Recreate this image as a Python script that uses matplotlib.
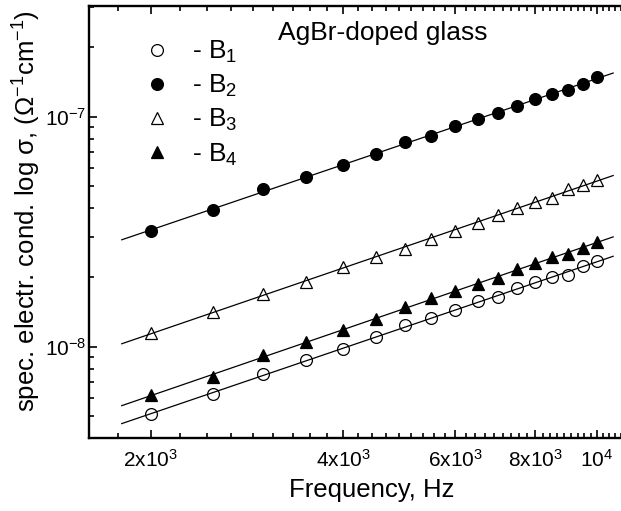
import numpy as np
import matplotlib
matplotlib.use("Agg")
import matplotlib.pyplot as plt
from matplotlib.ticker import FixedLocator, FixedFormatter, LogLocator, NullFormatter

plt.rcParams['font.family'] = ['Liberation Sans', 'DejaVu Sans']
plt.rcParams['mathtext.fontset'] = 'custom'
plt.rcParams['mathtext.rm'] = 'Liberation Sans'
plt.rcParams['mathtext.it'] = 'Liberation Sans:italic'
plt.rcParams['mathtext.bf'] = 'Liberation Sans:bold'

# ---- data ----
freq = [2000, 2500, 3000, 3500, 4000, 4500, 5000, 5500, 6000,
        6500, 7000, 7500, 8000, 8500, 9000, 9500, 10000]
B1 = [5.10e-9, 6.22e-9, 7.59e-9, 8.71e-9, 9.77e-9, 1.105e-8, 1.239e-8, 1.328e-8,
      1.443e-8, 1.585e-8, 1.64e-8, 1.80e-8, 1.905e-8, 2.009e-8, 2.044e-8, 2.243e-8, 2.358e-8]
B2 = [3.194e-8, 3.918e-8, 4.826e-8, 5.495e-8, 6.177e-8, 6.862e-8, 7.777e-8, 8.266e-8,
      9.085e-8, 9.79e-8, 1.036e-7, 1.115e-7, 1.198e-7, 1.258e-7, 1.30e-7, 1.39e-7, 1.491e-7]
B3 = [1.152e-8, 1.409e-8, 1.692e-8, 1.915e-8, 2.214e-8, 2.462e-8, 2.652e-8, 2.948e-8,
      3.194e-8, 3.46e-8, 3.725e-8, 4.02e-8, 4.256e-8, 4.443e-8, 4.864e-8, 5.031e-8, 5.305e-8]
B4 = [6.17e-9, 7.41e-9, 9.18e-9, 1.043e-8, 1.182e-8, 1.319e-8, 1.483e-8, 1.623e-8,
      1.746e-8, 1.873e-8, 1.989e-8, 2.17e-8, 2.305e-8, 2.455e-8, 2.542e-8, 2.699e-8, 2.852e-8]
series_labels = ["- B$_1$", "- B$_2$", "- B$_3$", "- B$_4$"]
fit_range = [1800, 10600]
xticks = [2000, 4000, 6000, 8000, 10000]
xtick_labels = ["2x10$^3$", "4x10$^3$", "6x10$^3$", "8x10$^3$", "10$^4$"]
yticks = [1e-8, 1e-7]
ytick_labels = ["10$^{-8}$", "10$^{-7}$"]

fig = plt.figure(figsize=(6.21, 5.11), dpi=100)
ax = fig.add_axes([89/621, (511-438)/511, (621-89)/621, 432/511])

styles = [
    dict(marker='o', mfc='none', mec='black'),
    dict(marker='o', mfc='black', mec='black'),
    dict(marker='^', mfc='none', mec='black'),
    dict(marker='^', mfc='black', mec='black'),
]
handles = []
xf = np.logspace(np.log10(fit_range[0]), np.log10(fit_range[1]), 50)
for ys, st, lab in zip([B1, B2, B3, B4], styles, series_labels):
    p = np.polyfit(np.log10(freq), np.log10(ys), 1)
    ax.plot(xf, 10**np.polyval(p, np.log10(xf)), color='black', lw=0.9, zorder=2)
    h, = ax.plot(freq, ys, linestyle='none', markersize=8.5, mew=0.9, zorder=3, label=lab, **st)
    handles.append(h)

ax.set_xscale('log')
ax.set_yscale('log')
ax.set_xlim(10**(np.log10(2000) - 62/638.9), 10**(4 + 24/638.9))
ax.set_ylim(10**(-8 - 91.3/230), 10**(-7 + 110.7/230))

ax.xaxis.set_major_locator(FixedLocator(xticks))
ax.xaxis.set_major_formatter(FixedFormatter(xtick_labels))
minor_x = [v for v in np.arange(2000 - 2000/9, 11000, 2000/9)
           if not any(abs(v - t) < 1 for t in xticks)]
ax.xaxis.set_minor_locator(FixedLocator(minor_x))
ax.xaxis.set_minor_formatter(NullFormatter())
ax.yaxis.set_major_locator(FixedLocator(yticks))
ax.yaxis.set_major_formatter(FixedFormatter(ytick_labels))
ax.yaxis.set_minor_locator(LogLocator(base=10, subs=range(2, 10)))
ax.yaxis.set_minor_formatter(NullFormatter())

ax.tick_params(which='both', direction='in', top=True, right=False, width=1.2)
ax.tick_params(axis='x', which='major', length=6, labelsize=15, pad=8)
ax.tick_params(axis='y', which='major', length=6, labelsize=15, pad=2)
ax.tick_params(which='minor', length=3.5)
for s in ['left', 'bottom', 'top']:
    ax.spines[s].set_linewidth(1.7)
ax.spines['right'].set_visible(False)

ax.set_xlabel("Frequency, Hz", fontsize=18.5)
ax.xaxis.set_label_coords((372 - 89) / 532, (438 - 490) / 432)
ax.xaxis.label.set_va('center')
ax.set_ylabel("spec. electr. cond. log σ, (Ω$^{-1}$cm$^{-1}$)", fontsize=18.5)
ax.yaxis.set_label_coords((27 - 89) / 532, (438 - 211) / 432)
ax.yaxis.label.set_va('center')
ax.text(0.355, 0.937, "AgBr-doped glass", transform=ax.transAxes, fontsize=19, va='center')

ax.legend(handles=handles, loc='upper left', bbox_to_anchor=(0.079, 0.948), frameon=False,
          fontsize=19, handletextpad=0.7, labelspacing=0.3, handlelength=1.2,
          borderaxespad=0)

fig.savefig("out.png", dpi=100)
